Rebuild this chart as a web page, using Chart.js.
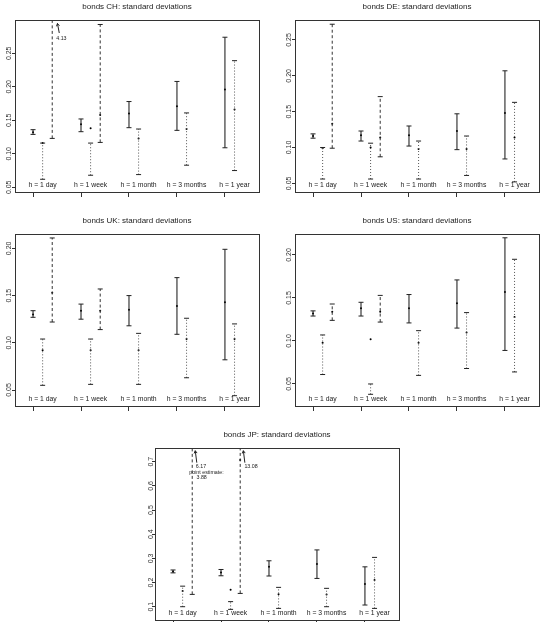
<!DOCTYPE html>
<html lang="en">
<head>
  <meta charset="UTF-8" />
  <title>bonds: standard deviations</title>
  <script src="https://cdn.jsdelivr.net/npm/chart.js"></script>
  <style>
    body {
      margin: 0;
      background: #ffffff;
      overflow: hidden;
      width: 541px;
      height: 622px;
      position: relative;
    }
    .panel {
      position: absolute;
      width: 270px;
      height: 214px;
    }
  </style>
</head>
<body>
  <div class="panel" style="left:0px;top:0px"><canvas id="chCanvas" width="270" height="214"></canvas></div>
  <div class="panel" style="left:280px;top:0px"><canvas id="deCanvas" width="270" height="214"></canvas></div>
  <div class="panel" style="left:0px;top:214px"><canvas id="ukCanvas" width="270" height="214"></canvas></div>
  <div class="panel" style="left:280px;top:214px"><canvas id="usCanvas" width="270" height="214"></canvas></div>
  <div class="panel" style="left:140px;top:428px"><canvas id="jpCanvas" width="270" height="214"></canvas></div>

  <script>
    // horizons and their positions on the x axis
    const horizons = ['h = 1 day', 'h = 1 week', 'h = 1 month', 'h = 3 months', 'h = 1 year'];
    const horizonPos = [1, 2, 3, 4, 5];

    // each row: [lower, estimate, upper]; null = no interval
    const chSolid  = [[0.129, 0.132, 0.136], [0.133, 0.144, 0.152], [0.139, 0.160, 0.178], [0.135, 0.171, 0.208], [0.109, 0.196, 0.274]];
    const chDotted = [[0.062, 0.116, 0.116], [0.068, 0.138, 0.116], [0.069, 0.123, 0.137], [0.083, 0.137, 0.161], [0.075, 0.166, 0.239]];
    const chDashed = [[0.123, null, 4.13], [0.117, 0.158, 0.293], null, null, null];
    const chTicks  = ['0.05', '0.10', '0.15', '0.20', '0.25'];

    const deSolid  = [[0.113, 0.116, 0.119], [0.109, 0.117, 0.123], [0.102, 0.117, 0.130], [0.097, 0.123, 0.147], [0.084, 0.148, 0.207]];
    const deDotted = [[0.056, 0.099, 0.100], [0.056, 0.100, 0.106], [0.056, 0.098, 0.109], [0.061, 0.098, 0.116], [0.052, 0.114, 0.163]];
    const deDashed = [[0.099, 0.133, 0.272], [0.087, 0.114, 0.171], null, null, null];
    const deTicks  = ['0.05', '0.10', '0.15', '0.20', '0.25'];

    const ukSolid  = [[0.127, 0.130, 0.134], [0.125, 0.134, 0.141], [0.118, 0.135, 0.150], [0.109, 0.139, 0.169], [0.082, 0.143, 0.199]];
    const ukDotted = [[0.055, 0.092, 0.104], [0.056, 0.092, 0.104], [0.056, 0.092, 0.110], [0.063, 0.104, 0.126], [0.044, 0.104, 0.120]];
    const ukDashed = [[0.122, 0.153, 0.211], [0.114, 0.134, 0.157], null, null, null];
    const ukTicks  = ['0.05', '0.10', '0.15', '0.20'];

    const usSolid  = [[0.129, 0.132, 0.135], [0.129, 0.138, 0.145], [0.121, 0.138, 0.154], [0.115, 0.144, 0.171], [0.089, 0.157, 0.220]];
    const usDotted = [[0.061, 0.098, 0.107], [0.038, 0.102, 0.050], [0.060, 0.098, 0.112], [0.068, 0.110, 0.133], [0.064, 0.128, 0.195]];
    const usDashed = [[0.124, 0.134, 0.143], [0.122, 0.134, 0.153], null, null, null];
    const usTicks  = ['0.05', '0.10', '0.15', '0.20'];

    const jpSolid  = [[0.240, 0.246, 0.252], [0.228, 0.242, 0.254], [0.227, 0.265, 0.290], [0.217, 0.277, 0.335], [0.107, 0.194, 0.265]];
    const jpDotted = [[0.100, 0.165, 0.185], [0.089, 0.170, 0.121], [0.093, 0.152, 0.180], [0.100, 0.151, 0.176], [0.093, 0.210, 0.304]];
    const jpDashed = [[0.151, 3.88, 6.17], [0.155, 0.707, 13.08], null, null, null];
    const jpTicks  = ['0.1', '0.2', '0.3', '0.4', '0.5', '0.6', '0.7'];

    const FONT = '"Liberation Sans", Arial, sans-serif';
    const INK = '#222222';

    const lineStyles = {
      solid:  { color: '#111111', dash: [],     off: 0 },
      dotted: { color: '#555555', dash: [1, 2], off: 0.2 },
      dashed: { color: '#333333', dash: [3, 2.5], off: 0.4 }
    };

    function intervalDatasets(rows, style, estimates) {
      const sets = [];
      rows.forEach((r, i) => {
        if (!r) return;
        const x = horizonPos[i] + style.off;
        sets.push({
          data: [{ x: x, y: r[0] }, { x: x, y: r[2] }],
          showLine: true,
          borderColor: style.color,
          borderWidth: 1,
          borderDash: style.dash,
          pointStyle: 'line',
          pointRadius: 2.5,
          pointBorderColor: INK,
          pointBorderWidth: 1
        });
        if (r[1] !== null) estimates.push({ x: x, y: r[1] });
      });
      return sets;
    }

    function drawArrow(ctx, x1, y1, x2, y2) {
      const a = Math.atan2(y2 - y1, x2 - x1);
      const len = 3;
      ctx.beginPath();
      ctx.moveTo(x1, y1);
      ctx.lineTo(x2, y2);
      ctx.moveTo(x2 - len * Math.cos(a - Math.PI / 6), y2 - len * Math.sin(a - Math.PI / 6));
      ctx.lineTo(x2, y2);
      ctx.lineTo(x2 - len * Math.cos(a + Math.PI / 6), y2 - len * Math.sin(a + Math.PI / 6));
      ctx.stroke();
    }

    // box, horizon labels and the out-of-range notes, drawn like base R does
    function rPlotPlugin(notes) {
      return {
        id: 'rplot',
        afterDatasetsDraw(chart) {
          const { ctx, chartArea: ca } = chart;
          const xs = chart.scales.x, ys = chart.scales.y;
          ctx.save();
          ctx.strokeStyle = '#333333';
          ctx.lineWidth = 1;
          ctx.strokeRect(Math.round(ca.left) + 0.5, Math.round(ca.top) + 0.5,
                         Math.round(ca.right - ca.left), Math.round(ca.bottom - ca.top));

          ctx.fillStyle = INK;
          ctx.font = '6.8px ' + FONT;
          ctx.textAlign = 'center';
          ctx.textBaseline = 'middle';
          horizons.forEach((h, i) => {
            ctx.fillText(h, xs.getPixelForValue(horizonPos[i] + 0.2), ca.bottom - 7);
          });

          ctx.font = '5.3px ' + FONT;
          ctx.textAlign = 'left';
          ctx.strokeStyle = INK;
          for (const n of notes) {
            if (n.arrow) {
              drawArrow(ctx, xs.getPixelForValue(n.arrow[0]), ys.getPixelForValue(n.arrow[1]),
                             xs.getPixelForValue(n.arrow[2]), ys.getPixelForValue(n.arrow[3]));
            } else {
              ctx.fillText(n.text, xs.getPixelForValue(n.x), ys.getPixelForValue(n.y));
            }
          }
          ctx.restore();
        }
      };
    }

    function makePanel(canvasId, title, ticks, yMin, yMax, solid, dotted, dashed, notes) {
      const estimates = [];
      const datasets = []
        .concat(intervalDatasets(solid, lineStyles.solid, estimates))
        .concat(intervalDatasets(dotted, lineStyles.dotted, estimates))
        .concat(intervalDatasets(dashed, lineStyles.dashed, estimates));
      datasets.push({
        data: estimates,
        showLine: false,
        pointStyle: 'circle',
        pointRadius: 1,
        pointBackgroundColor: '#000000',
        pointBorderWidth: 0
      });

      return new Chart(document.getElementById(canvasId), {
        type: 'scatter',
        data: { datasets: datasets },
        options: {
          responsive: false,
          animation: false,
          events: [],
          layout: { padding: { left: 0, right: 11, top: 0, bottom: 0 } },
          plugins: {
            legend: { display: false },
            tooltip: { enabled: false },
            title: {
              display: true,
              fullSize: false,
              text: title,
              color: INK,
              font: { family: FONT, size: 8, weight: 'normal' },
              padding: { top: 2, bottom: 8.4 }
            }
          },
          scales: {
            x: {
              type: 'linear',
              min: 0.624,
              max: 5.71,
              afterBuildTicks: s => { s.ticks = horizonPos.map(v => ({ value: v })); },
              afterFit: s => { s.height = 22; },
              ticks: { display: false },
              grid: { drawOnChartArea: false, drawTicks: true, tickLength: 5, color: '#333333' },
              border: { display: true, color: '#333333' }
            },
            y: {
              type: 'linear',
              min: yMin,
              max: yMax,
              afterBuildTicks: s => { s.ticks = ticks.map(t => ({ value: parseFloat(t) })); },
              afterFit: s => { s.width = 15; },
              ticks: {
                callback: (v, i) => ticks[i],
                minRotation: 90,
                maxRotation: 90,
                crossAlign: 'center',
                padding: -4,
                color: '#333333',
                font: { family: FONT, size: 7 }
              },
              grid: { drawOnChartArea: false, drawTicks: true, tickLength: 3, color: '#333333' },
              border: { display: true, color: '#333333' }
            }
          }
        },
        plugins: [rPlotPlugin(notes)]
      });
    }

    makePanel('chCanvas', 'bonds CH: standard deviations', chTicks, 0.043, 0.2997,
      chSolid, chDotted, chDashed, [
        { arrow: [1.547, 0.2803, 1.509, 0.2945] },
        { text: '4.13', x: 1.484, y: 0.2713 }
      ]);

    makePanel('deCanvas', 'bonds DE: standard deviations', deTicks, 0.0379, 0.2779,
      deSolid, deDotted, deDashed, []);

    makePanel('ukCanvas', 'bonds UK: standard deviations', ukTicks, 0.0331, 0.2152,
      ukSolid, ukDotted, ukDashed, []);

    makePanel('usCanvas', 'bonds US: standard deviations', usTicks, 0.0244, 0.2244,
      usSolid, usDotted, usDashed, []);

    makePanel('jpCanvas', 'bonds JP: standard deviations', jpTicks, 0.045, 0.7567,
      jpSolid, jpDotted, jpDashed, [
        { arrow: [1.495, 0.696, 1.463, 0.7455] },
        { text: '6.17', x: 1.474, y: 0.682 },
        { text: 'point estimate:', x: 1.338, y: 0.657 },
        { text: '3.88', x: 1.489, y: 0.635 },
        { arrow: [2.497, 0.696, 2.466, 0.7455] },
        { text: '13.08', x: 2.487, y: 0.682 }
      ]);
  </script>
</body>
</html>
